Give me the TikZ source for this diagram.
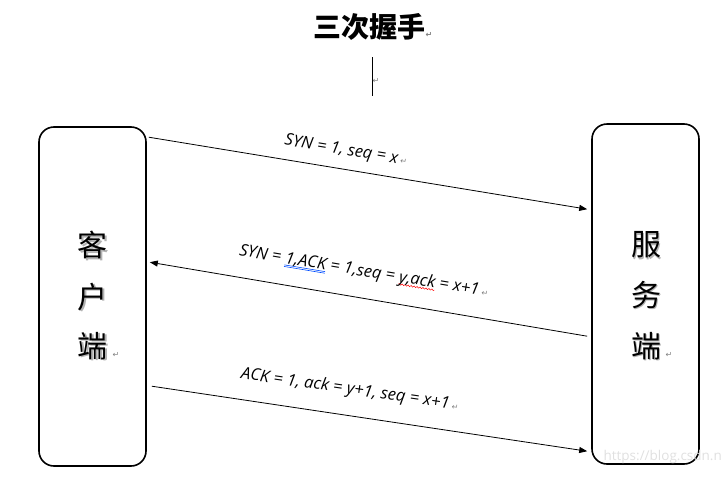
\documentclass[tikz,border=0pt]{standalone}
\usepackage{fontspec}
\usetikzlibrary{arrows.meta,calc,decorations.pathmorphing}
\setmainfont{Open Sans}
\newfontfamily\cjk{Noto Sans CJK SC}
\newfontfamily\symf{DejaVu Sans}
\newlength\ulw
\newcommand\retmark{{\symf\fontsize{8}{8}\selectfont\color{gray}↵}}
\newcommand\blueuu[1]{\setbox0\hbox{#1}\setlength\ulw{\wd0}%
  \rlap{\color{blue!70!cyan}\raisebox{-2pt}{\rule{\ulw}{0.6pt}}}%
  \rlap{\color{blue!70!cyan}\raisebox{-3.6pt}{\rule{\ulw}{0.6pt}}}\box0\relax}
\newcommand\redwave[1]{\setbox0\hbox{#1}\setlength\ulw{\wd0}%
  \rlap{\raisebox{-3pt}{\tikz[x=1pt,y=1pt]\draw[red,line width=0.5pt,decorate,decoration={snake,amplitude=0.7pt,segment length=3pt}] (0pt,0pt) -- (\ulw,0pt);}}\box0\relax}
\begin{document}
\begin{tikzpicture}[x=1pt,y=-1pt,
  hostbox/.style={draw,line width=1.6pt,rounded corners=15pt,minimum width=107pt,minimum height=339pt,inner sep=0pt},
  hosttext/.style={font=\cjk\fontsize{30}{30}\selectfont,align=center},
  msg/.style={line width=0.8pt,-{Triangle[length=8pt,width=6pt]}},
  lbl/.style={font=\itshape\fontsize{16.5}{16.5}\selectfont,inner sep=0pt}]
\useasboundingbox (0,0) rectangle (723,477);
\node[font=\cjk\bfseries\fontsize{28}{28}\selectfont] (title) at (373,27) {三次握手\retmark};
\coordinate (vt) at (372,57);
\coordinate (vb) at (372,96);
\draw[line width=0.8pt] (vt) -- (vb);
\node (vmark) at (376,81) {\retmark};

\node[hostbox] (client) at (92.5,296.5) {};
\node[hostbox,minimum height=340pt] (server) at (645.5,294) {};

\foreach \ch/\yy/\nm in {客/245/c1,户/297/c2,端/346/c3}{
  \node[hosttext,text=black!30] at (94,\yy+1.5) {\ch};
  \node[hosttext] (\nm) at (92.5,\yy) {\ch};
}
\node (cmark) at (116,355) {\retmark};
\foreach \ch/\yy/\nm in {服/245/s1,务/295/s2,端/346/s3}{
  \node[hosttext,text=black!30] at (647.5,\yy+1.5) {\ch};
  \node[hosttext] (\nm) at (646,\yy) {\ch};
}
\node (smark) at (669,355) {\retmark};

\coordinate (a1s) at ($(client.north east)+(2,11)$);
\coordinate (a1e) at ($(server.north west)+(-4,86)$);
\coordinate (a2s) at ($(server.north west)+(-4,213)$);
\coordinate (a2e) at ($(client.north east)+(3,136)$);
\coordinate (a3s) at ($(client.north east)+(5,260)$);
\coordinate (a3e) at ($(server.north west)+(-4,328)$);

\draw[msg] (a1s) -- (a1e);
\draw[msg] (a2s) -- (a2e);
\draw[msg] (a3s) -- (a3e);

\node[lbl,rotate=-9.3] (l1) at (346,151) {SYN = 1, seq = x\,\retmark};
\node[lbl,rotate=-9.4] (l2) at (364,272) {SYN = \blueuu{1,ACK} = 1,seq = \redwave{y,ack} = x+1\,\retmark};
\node[lbl,rotate=-8.3] (l3) at (350,390) {ACK = 1, ack = y+1, seq = x+1\,\retmark};

\node[font=\fontsize{13.5}{13.5}\selectfont,text=black!12,anchor=east,inner sep=0pt] (wm) at (722,457) {https://blog.csdn.n};
\end{tikzpicture}
\end{document}
